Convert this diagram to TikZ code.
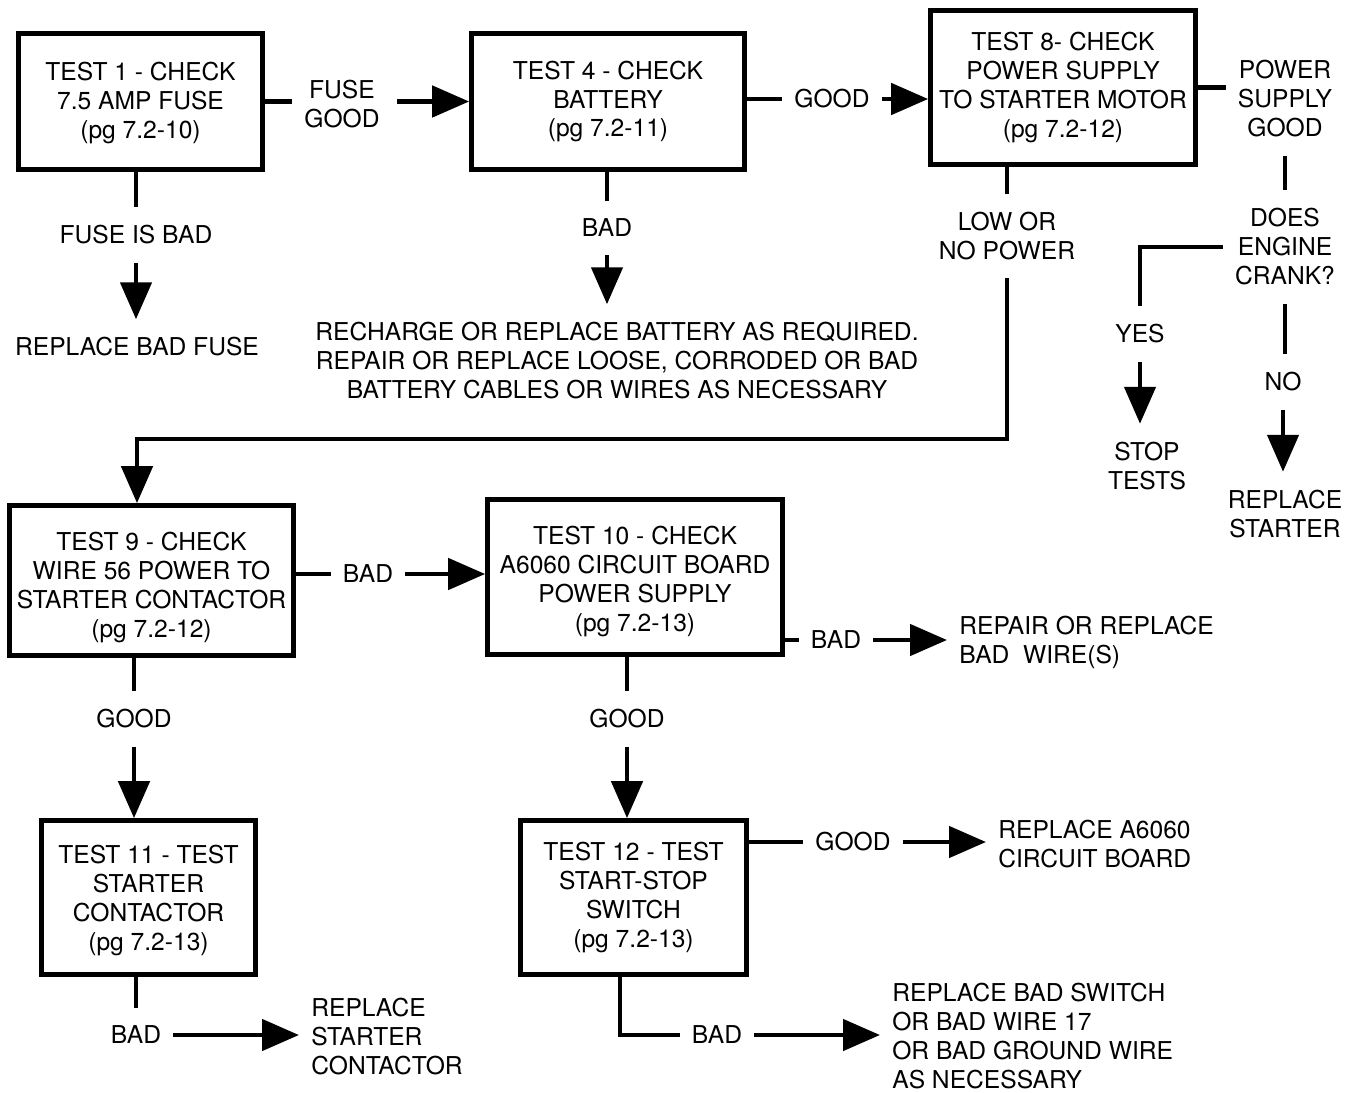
\documentclass[tikz,border=0pt]{standalone}
\usepackage{fontspec}
\setmainfont{TeX Gyre Heros}
\usepackage{tikz}
\usetikzlibrary{arrows.meta}

\begin{document}
\begin{tikzpicture}[x=0.02cm,y=-0.02cm,
  font=\fontsize{14}{16.5}\selectfont,
  testbox/.style={draw,line width=0.094cm,align=center,inner sep=2pt},
  lbl/.style={align=center,inner xsep=0.24cm,inner ysep=0.36cm},
  note/.style={align=left,anchor=west,inner xsep=0.24cm,inner ysep=0.1cm},
  link/.style={line width=0.094cm},
  arr/.style={line width=0.094cm,-{Triangle[length=0.74cm,width=0.62cm]}}]
  \useasboundingbox (0,0) rectangle (1352,1092);

  \node[testbox,minimum width=4.88cm,minimum height=2.72cm] (b1) at (140.5,101.5)
    {\rule{0pt}{12.3pt}TEST 1 - CHECK\\7.5 AMP FUSE\\(pg 7.2-10)};
  \node[testbox,minimum width=5.46cm,minimum height=2.72cm] (b4) at (608,101.5)
    {TEST 4 - CHECK\\BATTERY\\(pg 7.2-11)};
  \node[testbox,minimum width=5.3cm,minimum height=3.08cm] (b8) at (1063,87.5)
    {TEST 8- CHECK\\POWER SUPPLY\\TO STARTER MOTOR\\(pg 7.2-12)};
  \node[testbox,minimum width=5.68cm,minimum height=3.0cm] (b9) at (151.5,580.5)
    {\rule{0pt}{18pt}TEST 9 - CHECK\\WIRE 56 POWER TO\\STARTER CONTACTOR\\(pg 7.2-12)};
  \node[testbox,minimum width=5.9cm,minimum height=3.1cm] (b10) at (635,577)
    {\rule{0pt}{15.7pt}TEST 10 - CHECK\\A6060 CIRCUIT BOARD\\POWER SUPPLY\\(pg 7.2-13)};
  \node[testbox,minimum width=4.28cm,minimum height=3.08cm] (b11) at (148.5,897.5)
    {\rule{0pt}{13.5pt}TEST 11 - TEST\\STARTER\\CONTACTOR\\(pg 7.2-13)};
  \node[testbox,minimum width=4.52cm,minimum height=3.08cm] (b12) at (633.5,897.5)
    {TEST 12 - TEST\\START-STOP\\SWITCH\\(pg 7.2-13)};

  \node[lbl] (fusegood) at (342,104) {FUSE\\GOOD};
  \node[lbl] (good4) at (832,99) {GOOD};
  \node[lbl] (psgood) at (1285,99) {POWER\\SUPPLY\\GOOD};
  \node[lbl] (crank) at (1285,247) {DOES\\ENGINE\\CRANK?};
  \node[lbl] (yes) at (1140,334) {YES};
  \node[lbl] (no) at (1283,382) {NO};
  \node[lbl] (stop) at (1147,466) {STOP\\TESTS};
  \node[lbl] (starter) at (1285,514) {REPLACE\\STARTER};
  \node[lbl] (fusebad) at (136,235) {FUSE IS BAD};
  \node[lbl] (repfuse) at (137,347) {REPLACE BAD FUSE};
  \node[lbl] (bad4) at (607,228) {BAD};
  \node[lbl] (battery) at (617,361)
    {RECHARGE OR REPLACE BATTERY AS REQUIRED.\\REPAIR OR REPLACE LOOSE, CORRODED OR BAD\\BATTERY CABLES OR WIRES AS NECESSARY};
  \node[lbl] (lowpower) at (1007,236) {LOW OR\\NO POWER};
  \node[lbl] (bad9) at (368,574) {BAD};
  \node[lbl] (bad10) at (836,640) {BAD};
  \node[note] (wires) at (947,642) {REPAIR OR REPLACE\\BAD\ \ WIRE(S)};
  \node[lbl] (good9) at (134,719) {GOOD};
  \node[lbl] (good10) at (627,719) {GOOD};
  \node[lbl] (bad11) at (136,1035) {BAD};
  \node[note] (contactor) at (299,1037) {REPLACE\\STARTER\\CONTACTOR};
  \node[lbl] (good12) at (853,842) {GOOD};
  \node[note] (board) at (986,844) {REPLACE A6060\\CIRCUIT BOARD};
  \node[lbl] (bad12) at (717,1035) {BAD};
  \node[note] (switch) at (880,1036)
    {REPLACE BAD SWITCH\\OR BAD WIRE 17\\OR BAD GROUND WIRE\\AS NECESSARY};
  \coordinate (turn) at (137,439);

  \draw[link] (b1.east) -- (b1.east -| fusegood.west);
  \draw[arr] ([xshift=0.1cm]b1.east -| fusegood.east) -- (b4.west);
  \draw[link] (b4.east |- good4) -- (good4.west);
  \draw[arr] (good4.east) -- (good4 -| b8.west);
  \draw[link] (b8.east) -- (b8.east -| psgood.west);
  \draw[link] (psgood.south) -- (crank.north);
  \draw[link] (crank.west) -| (yes.north);
  \draw[arr] (yes.south) -- (yes.south |- stop.north);
  \draw[link] (crank.south) -- (crank.south |- no.north);
  \draw[arr] (no.south) -- (no.south |- starter.north);
  \draw[link] (fusebad.north |- b1.south) -- (fusebad.north);
  \draw[arr] (fusebad.south) -- (fusebad.south |- repfuse.north);
  \draw[link] (bad4.north |- b4.south) -- (bad4.north);
  \draw[arr] (bad4.south) -- (bad4.south |- battery.north);
  \draw[link] (lowpower.north |- b8.south) -- (lowpower.north);
  \draw[arr] (lowpower.south) |- (turn) -- (turn |- b9.north);
  \draw[link] (b9.east |- bad9) -- (bad9.west);
  \draw[arr] (bad9.east) -- (bad9.east -| b10.west);
  \draw[link] (b10.east |- bad10) -- (bad10.west);
  \draw[arr] (bad10.east) -- (bad10.east -| wires.west);
  \draw[link] (good9.north |- b9.south) -- (good9.north);
  \draw[arr] (good9.south) -- (good9.south |- b11.north);
  \draw[link] (good10.north |- b10.south) -- (good10.north);
  \draw[arr] (good10.south) -- (good10.south |- b12.north);
  \draw[link] (bad11.north |- b11.south) -- (bad11.north);
  \draw[arr] (bad11.east) -- (bad11.east -| contactor.west);
  \draw[link] (b12.east |- good12) -- (good12.west);
  \draw[arr] (good12.east) -- (good12.east -| board.west);
  \draw[link] ([xshift=-0.27cm]b12.south) |- (bad12.west);
  \draw[arr] (bad12.east) -- (bad12.east -| switch.west);
\end{tikzpicture}
\end{document}
